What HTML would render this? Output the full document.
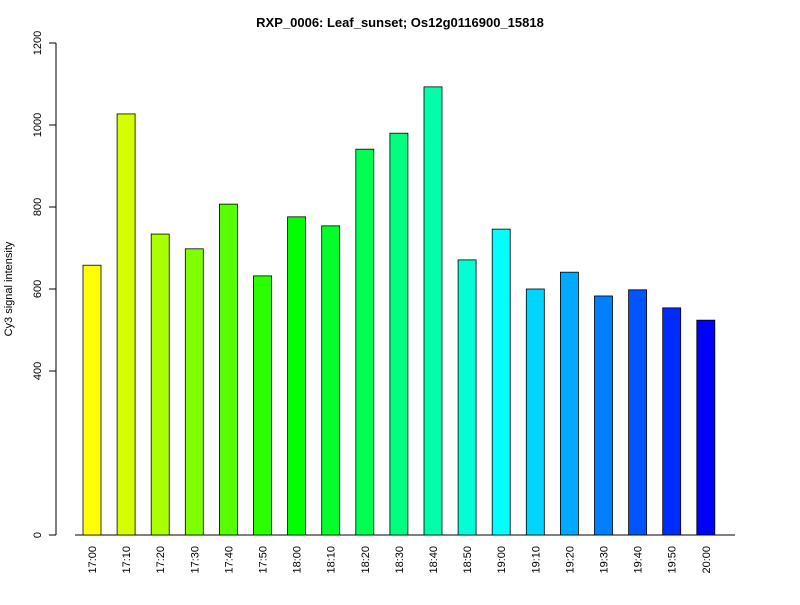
<!DOCTYPE html>
<html><head><meta charset="utf-8"><style>
body{margin:0;background:#fff;font-family:"Liberation Sans",sans-serif}
</style></head><body>
<svg id="chart" width="800" height="600" xmlns="http://www.w3.org/2000/svg">
<rect width="800" height="600" fill="#fff"/>
<text x="400" y="27" text-anchor="middle" font-size="13" font-weight="bold">RXP_0006: Leaf_sunset; Os12g0116900_15818</text>
<text transform="translate(12,289) rotate(-90)" text-anchor="middle" font-size="11">Cy3 signal intensity</text>
<g id="axes"></g>
<g id="bars"></g>
</svg>
<script>
const categories = ["17:00","17:10","17:20","17:30","17:40","17:50","18:00","18:10","18:20","18:30","18:40","18:50","19:00","19:10","19:20","19:30","19:40","19:50","20:00"];
const values = [658,1027,734,698,807,632,776,754,941,980,1093,671,746,600,641,583,598,554,524];
const yTicks = [0,400,600,800,1000,1200];

const NS="http://www.w3.org/2000/svg";
const y = v => 535 - v*0.41;
const x = i => 92 + i*34.1;
function mk(tag, attrs){const e=document.createElementNS(NS,tag);for(const k in attrs)e.setAttribute(k,attrs[k]);return e;}
const axes=document.getElementById('axes'), bars=document.getElementById('bars');

const yl=mk('line',{x1:56,x2:56,y1:y(0),y2:y(1200),stroke:'#000'});


axes.appendChild(yl);
const xl=mk('line',{x1:75,x2:735,y1:535,y2:535,stroke:'#000'});


axes.appendChild(xl);

yTicks.forEach(t=>{
  const tk=mk('line',{x1:49,x2:56,y1:y(t),y2:y(t),stroke:'#000'});
  
  
  axes.appendChild(tk);
  const tx=mk('text',{transform:`translate(41,${y(t)}) rotate(-90)`,'text-anchor':'middle','font-size':11});
  tx.textContent=t;
  
  
  axes.appendChild(tx);
});

categories.forEach((c,i)=>{
  const v=values[i];
  const r=mk('rect',{x:x(i)-9,y:y(v),width:18,height:535-y(v),fill:`hsl(${60+i*10},100%,50%)`,stroke:'#000','stroke-width':0.8});
  
  
  bars.appendChild(r);
  const t=mk('text',{transform:`translate(${x(i)+4},546) rotate(-90)`,'text-anchor':'end','font-size':11});
  t.textContent=c;
  
  
  axes.appendChild(t);
});
</script>
</body></html>
